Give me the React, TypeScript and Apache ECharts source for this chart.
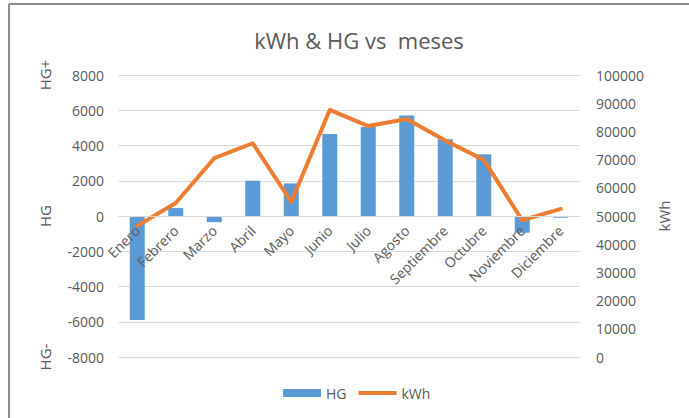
import React, { useEffect, useRef } from "react";
import * as echarts from "echarts";

const months = ["Enero", "Febrero", "Marzo", "Abril", "Mayo", "Junio", "Julio", "Agosto", "Septiembre", "Octubre", "Noviembre", "Diciembre"];
const hgValues = [-5900, 450, -350, 2000, 1850, 4650, 5050, 5700, 4350, 3500, -950, -100];
const kwhValues = [46500, 54600, 70500, 75800, 55000, 87600, 81900, 84400, 76800, 69900, 48500, 52500];

const FONT = "Open Sans";
const TXT = "#595959";

export default function App() {
  const ref = useRef<HTMLDivElement>(null);
  useEffect(() => {
    if (!ref.current) return;
    const chart = echarts.init(ref.current, null, { renderer: "svg" });
    const gridTop = 75;
    const gridBottom = 61;
    const plotH = 418 - gridTop - gridBottom;
    const zeroOffset = -plotH / 2; // HG axis is symmetric, zero sits at the middle
    chart.setOption({
      animation: false,
      backgroundColor: "#ffffff",
      textStyle: { fontFamily: FONT, color: TXT },
      title: {
        text: "kWh & HG vs  meses",
        left: 354,
        textAlign: "center",
        top: 24,
        textStyle: { fontFamily: FONT, fontSize: 22, fontWeight: "normal", color: TXT },
      },
      legend: {
        bottom: 13,
        left: 278,
        itemWidth: 38,
        itemHeight: 8,
        itemGap: 12,
        textStyle: { fontFamily: FONT, fontSize: 14, color: TXT },
        data: [
          { name: "HG", icon: "rect" },
          { name: "kWh", icon: "path://M0,0h38v4h-38z" },
        ],
      },
      grid: { left: 118, right: 109, top: gridTop, bottom: gridBottom },
      xAxis: {
        type: "category",
        data: months,
        position: "bottom",
        offset: zeroOffset,
        z: 10,
        axisLine: { onZero: false, lineStyle: { color: "#D9D9D9", width: 1 } },
        axisTick: { show: false },
        axisLabel: { rotate: 45, fontSize: 14, color: TXT, fontFamily: FONT, margin: 12, interval: 0 },
      },
      yAxis: [
        {
          type: "value",
          min: -8000,
          max: 8000,
          interval: 2000,
          axisLine: { show: false },
          axisTick: { show: false },
          splitLine: { lineStyle: { color: "#D9D9D9", width: 1 } },
          axisLabel: { fontSize: 14, color: TXT, fontFamily: FONT, margin: 14, formatter: (v: number) => String(v) },
        },
        {
          type: "value",
          min: 0,
          max: 100000,
          interval: 10000,
          axisLine: { show: false },
          axisTick: { show: false },
          splitLine: { show: false },
          axisLabel: { fontSize: 14, color: TXT, fontFamily: FONT, margin: 16, formatter: (v: number) => String(v) },
          name: "kWh",
          nameLocation: "middle",
          nameRotate: 90,
          nameGap: 76,
          nameTextStyle: { fontSize: 15, color: TXT, fontFamily: FONT },
        },
      ],
      series: [
        {
          name: "HG",
          type: "bar",
          data: hgValues,
          yAxisIndex: 0,
          barWidth: 15,
          itemStyle: { color: "#5B9BD5" },
        },
        {
          name: "kWh",
          type: "line",
          data: kwhValues,
          yAxisIndex: 1,
          symbol: "none",
          z: 3,
          lineStyle: { color: "#ED7D31", width: 4, join: "round", cap: "round" },
          itemStyle: { color: "#ED7D31" },
        },
      ],
      graphic: [
        { type: "line", shape: { x1: 9, y1: 4, x2: 689, y2: 4 }, style: { stroke: "#8c8c8c", lineWidth: 2 } },
        { type: "line", shape: { x1: 9, y1: 4, x2: 9, y2: 418 }, style: { stroke: "#8c8c8c", lineWidth: 2 } },
        { type: "text", x: 45, y: 75, rotation: Math.PI / 2, style: { text: "HG+", fontSize: 15, fill: TXT, fontFamily: FONT, align: "center", verticalAlign: "middle" } },
        { type: "text", x: 45, y: 216, rotation: Math.PI / 2, style: { text: "HG", fontSize: 15, fill: TXT, fontFamily: FONT, align: "center", verticalAlign: "middle" } },
        { type: "text", x: 45, y: 357, rotation: Math.PI / 2, style: { text: "HG-", fontSize: 15, fill: TXT, fontFamily: FONT, align: "center", verticalAlign: "middle" } },
      ],
    });
    return () => chart.dispose();
  }, []);
  return <div ref={ref} style={{ position: "absolute", left: 0, top: 0, width: 689, height: 418 }} />;
}
